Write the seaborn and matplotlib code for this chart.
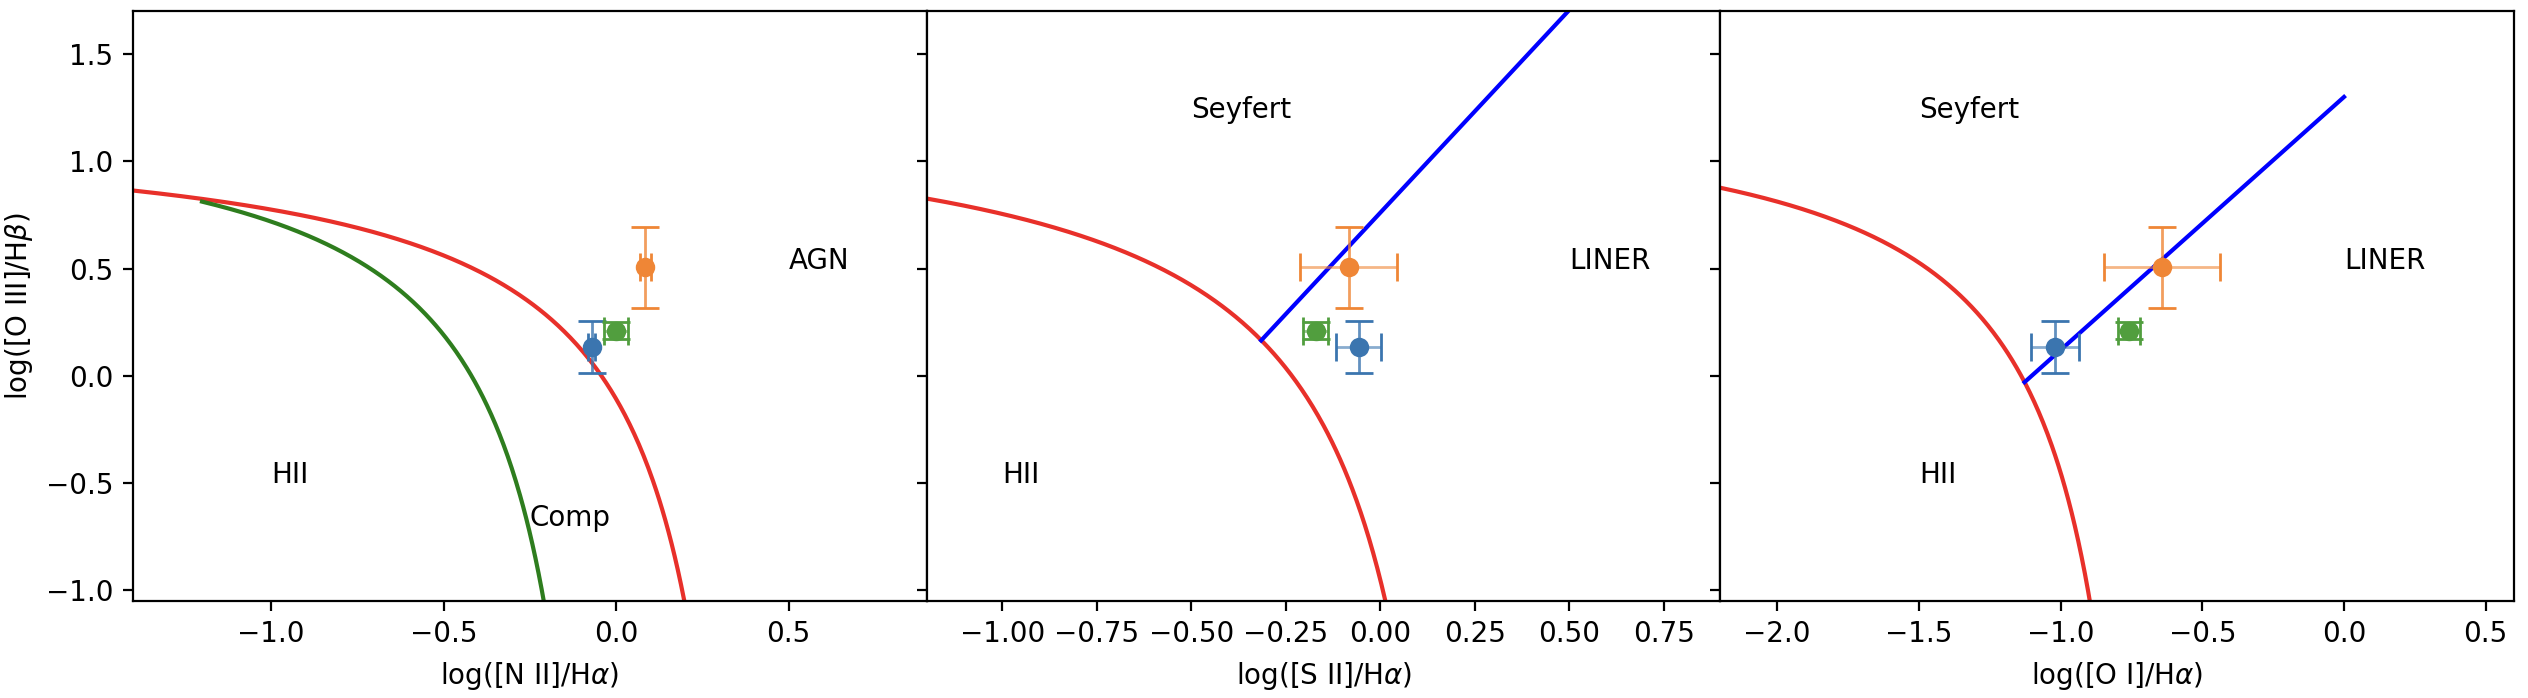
import numpy as np
import seaborn as sns
import matplotlib.pyplot as plt

# BPT diagram points: blue, orange, green
colors = ['#3b75af', '#ef8636', '#519e3e']
y_oiii = [0.135, 0.505, 0.21]
y_oiii_err = [0.12, 0.19, 0.04]

x_nii = [-0.07, 0.085, 0.0]
x_nii_err = [0.01, 0.015, 0.035]
x_sii = [-0.057, -0.083, -0.171]
x_sii_err = [0.06, 0.128, 0.033]
x_oi = [-1.02, -0.642, -0.758]
x_oi_err = [0.084, 0.204, 0.04]

# demarcation lines (Kewley 2001, Kauffmann 2003, Kewley 2006)
kewley_nii = (0.61, 0.47, 1.19)
kauffmann_nii = (0.61, 0.05, 1.30)
kewley_sii = (0.72, 0.32, 1.30)
kewley_oi = (0.73, -0.59, 1.33)
seyfert_sii = (1.89, 0.76)
seyfert_oi = (1.18, 1.30)

xlims = [(-1.4, 0.9), (-1.2, 0.9), (-2.2, 0.6)]
ylim = (-1.05, 1.7)
xlabels = ['log([N II]/H$\\alpha$)', 'log([S II]/H$\\alpha$)', 'log([O I]/H$\\alpha$)']
region_labels = [
    [('HII', -1.0, -0.5), ('Comp', -0.25, -0.7), ('AGN', 0.5, 0.5)],
    [('HII', -1.0, -0.5), ('Seyfert', -0.5, 1.2), ('LINER', 0.5, 0.5)],
    [('HII', -1.5, -0.5), ('Seyfert', -1.5, 1.2), ('LINER', 0.0, 0.5)],
]


def curve(coef, x0, x1, n=400):
    a, b, c = coef
    x = np.linspace(x0, x1, n)
    return x, a / (x - b) + c


fig, axes = plt.subplots(nrows=1, ncols=3, figsize=(12.64, 3.49), sharey=True)
fig.subplots_adjust(left=0.0526, right=0.9945, top=0.984, bottom=0.139, wspace=0)

red = '#e8302a'
green = '#2e7d1e'

# 1: NII
x, y = curve(kewley_nii, -1.4, 0.4)
sns.lineplot(x=x, y=y, ax=axes[0], color=red, lw=1.5)
x, y = curve(kauffmann_nii, -1.2, -0.01)
sns.lineplot(x=x, y=y, ax=axes[0], color=green, lw=1.5)

# 2: SII
x, y = curve(kewley_sii, -1.2, 0.25)
sns.lineplot(x=x, y=y, ax=axes[1], color=red, lw=1.5)
x = np.array([-0.315, 0.9])
sns.lineplot(x=x, y=seyfert_sii[0] * x + seyfert_sii[1], ax=axes[1], color='blue', lw=1.5)

# 3: OI
x, y = curve(kewley_oi, -2.2, -0.65)
sns.lineplot(x=x, y=y, ax=axes[2], color=red, lw=1.5)
x = np.array([-1.127, 0.0])
sns.lineplot(x=x, y=seyfert_oi[0] * x + seyfert_oi[1], ax=axes[2], color='blue', lw=1.5)

for ax, xs, xe in zip(axes, [x_nii, x_sii, x_oi], [x_nii_err, x_sii_err, x_oi_err]):
    for i in range(3):
        _, caps, bars = ax.errorbar(xs[i], y_oiii[i], xerr=xe[i], yerr=y_oiii_err[i],
                                    fmt='o', color=colors[i], ms=6, elinewidth=1,
                                    capsize=5, capthick=1, zorder=3)
        bars[0].set_alpha(0.6)
        bars[1].set_alpha(0.8)

for ax, xl, lab, regs in zip(axes, xlims, xlabels, region_labels):
    ax.set_xlim(xl)
    ax.set_ylim(ylim)
    ax.set_xlabel(lab)
    for t, tx, ty in regs:
        ax.text(tx, ty, t, fontsize=10)

axes[0].set_ylabel('log([O III]/H$\\beta$)')

fig.savefig('out.png', dpi=200)
